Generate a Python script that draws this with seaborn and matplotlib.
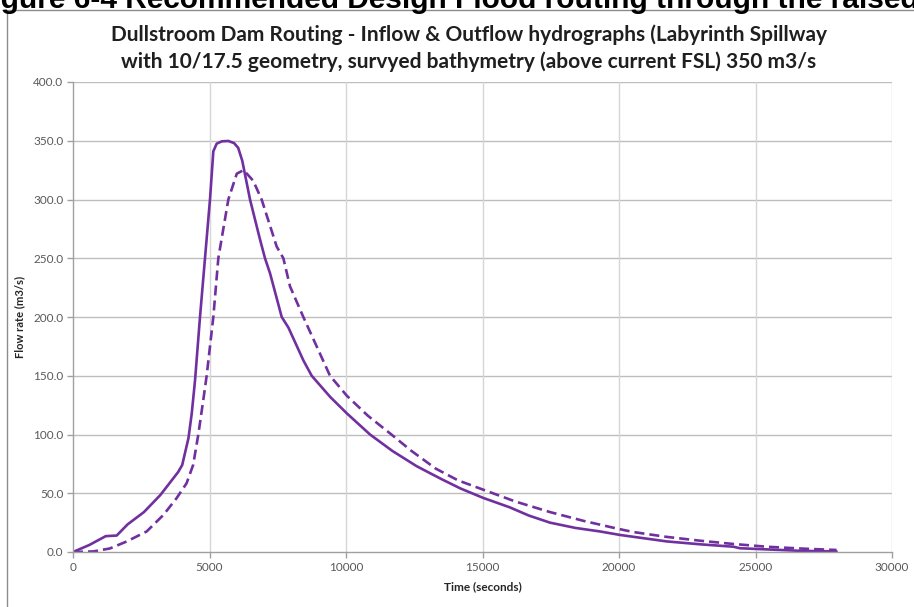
import numpy as np
import pandas as pd
import matplotlib
matplotlib.use("Agg")
import matplotlib.pyplot as plt
from matplotlib.patches import Rectangle
import seaborn as sns

# 유입 수문곡선 (실선)
inflow_t = [0, 600, 1200, 1600, 2000, 2600, 3200, 3850, 4000, 4230, 4350, 4470,
            4652, 4835, 5018, 5140, 5262, 5450, 5690, 5900, 6050, 6200, 6484,
            6850, 7033, 7220, 7645, 7890, 8440, 8743, 9420, 10030, 10880, 11700,
            12590, 13500, 14200, 15030, 16000, 16700, 17470, 18400, 19300, 20040,
            21750, 23000, 24190, 24430, 26630, 27970]
inflow_q = [0, 6, 13.5, 14, 23.5, 34, 48.5, 68, 74, 97, 118, 146,
            200, 250, 300, 341, 347.5, 349.5, 349.8, 348, 344, 333, 300,
            266, 250, 237, 200, 191, 163, 150, 132, 118, 100, 86,
            73, 62, 54, 46, 38, 31, 25, 20.5, 17.5, 14.5,
            9, 6.5, 4.5, 3.2, 1, 0.5]

# 유출 수문곡선 (점선)
outflow_t = [0, 750, 1350, 1970, 2700, 3310, 3800, 4160, 4400, 4590, 4770, 4896,
             5140, 5323, 5690, 6000, 6250, 6600, 6910, 7460, 7705, 7950, 8437,
             9414, 10030, 10800, 11610, 12400, 13285, 14100, 15030, 16200, 17470,
             18700, 19915, 20525, 21700, 22970, 24200, 25410, 26700, 27970]
outflow_q = [0, 0.5, 3, 9, 17.5, 31.5, 46, 58.5, 74, 100, 129, 150,
             200, 250, 300, 322, 325, 316, 300, 260, 250, 226, 200,
             150, 133, 116, 101, 86, 71, 61, 53, 43, 34,
             26.5, 20, 17, 13, 9.6, 6.8, 4.5, 2.9, 1.7]

x_ticks = [0, 5000, 10000, 15000, 20000, 25000, 30000]
y_ticks = [0, 50, 100, 150, 200, 250, 300, 350, 400]

purple = "#7030A0"

sns.set_theme(style="white")
plt.rcParams['font.family'] = ['Lato', 'DejaVu Sans']

fig = plt.figure(figsize=(9.14, 6.07), dpi=100)
ax = fig.add_axes([73 / 914, 1 - 552 / 607, (892 - 73) / 914, (552 - 82) / 607])

df_in = pd.DataFrame({"t": inflow_t, "q": inflow_q})
df_out = pd.DataFrame({"t": outflow_t, "q": outflow_q})
sns.lineplot(data=df_in, x="t", y="q", ax=ax, color=purple, lw=1.9, sort=False)
sns.lineplot(data=df_out, x="t", y="q", ax=ax, color=purple, lw=1.9, sort=False)
ax.lines[0].set_solid_joinstyle("round")
ax.lines[1].set_dashes([3.8, 1.9])

ax.set_xlim(0, 30000)
ax.set_ylim(0, 400)
ax.set_xticks(x_ticks)
ax.set_yticks(y_ticks)
ax.set_xticklabels([str(v) for v in x_ticks])
ax.set_yticklabels([f"{v:.1f}" for v in y_ticks])

for v in y_ticks[1:]:
    ax.axhline(v, color="#bdbdbd", lw=1, zorder=0)
for v in x_ticks[1:]:
    ax.axvline(v, color="#d6d6d6", lw=1, zorder=0)

for s in ["top", "right"]:
    ax.spines[s].set_visible(False)
for s in ["left", "bottom"]:
    ax.spines[s].set_color("#a0a0a0")
    ax.spines[s].set_linewidth(1)

ax.tick_params(axis="both", which="major", length=4, width=1, color="#a0a0a0",
               labelsize=8.5, labelcolor="#595959", pad=3, direction="out",
               bottom=True, left=True)

ax.set_xlabel("Time (seconds)", fontsize=8.5, fontweight="bold", color="#262626", labelpad=6)
ax.set_ylabel("Flow rate (m3/s)", fontsize=8, fontweight="bold", color="#262626", labelpad=6)

fig.text(469 / 914, 1 - 35 / 607,
         "Dullstroom Dam Routing - Inflow & Outflow hydrographs (Labyrinth Spillway",
         ha="center", va="center", fontsize=15, fontweight="bold", color="#1f1f1f")
fig.text(469 / 914, 1 - 62 / 607,
         "with 10/17.5 geometry, survyed bathymetry (above current FSL) 350 m3/s",
         ha="center", va="center", fontsize=15, fontweight="bold", color="#1f1f1f")

# 잘린 그림 캡션 (원본에서도 위쪽이 잘려 있음)
fig.text(-26 / 914, 1 - 8 / 607,
         "Figure 6-4 Recommended Design Flood routing through the raised",
         ha="left", va="baseline", fontsize=21.5, fontweight="bold", color="black",
         family=["Liberation Sans", "DejaVu Sans"])

fig.patches.append(Rectangle((7 / 914, -0.1), 1.2, 0.1 + (607 - 10) / 607,
                             transform=fig.transFigure, fill=False,
                             ec="#8c8c8c", lw=1))

fig.savefig("out.png", dpi=100)
